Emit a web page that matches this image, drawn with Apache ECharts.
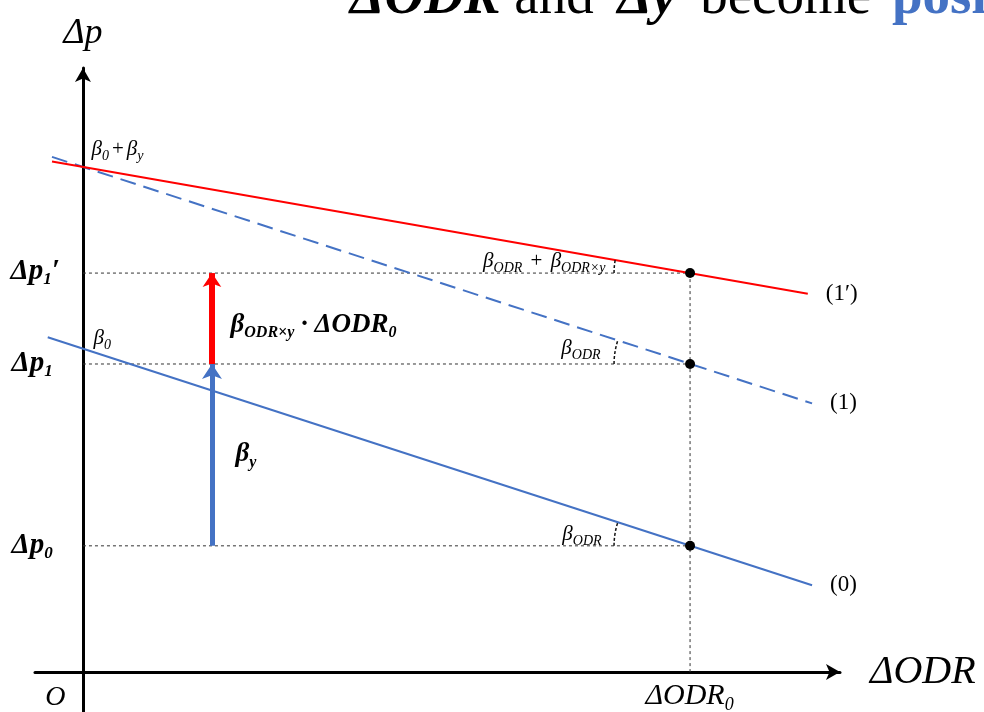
<!DOCTYPE html>
<html><head><meta charset="utf-8">
<script src="https://cdn.jsdelivr.net/npm/echarts@6/dist/echarts.min.js"></script>
<style>html,body{margin:0;padding:0;background:#fff}#c{width:984px;height:712px}</style>
</head><body><div id="c"></div>
<script>
// ---- data (conceptual units) ----
const xRange = [-0.79, 12.47];
const yRange = [-0.79, 11.96];
const odr0 = 10;                       // ΔODR0
const dpLevels = [2.5, 6.1, 7.9];      // Δp0, Δp1, Δp1'
const intercepts = [6.4, 10.0];        // β0, β0+βy
const slopes = [-0.39, -0.21];         // βODR, βODR+βODR×y
const line0 = [[-0.58, 6.63], [12.01, 1.72]];   // (0)
const line1 = [[-0.51, 10.2], [12.01, 5.32]];   // (1)
const line1p = [[-0.51, 10.11], [11.94, 7.49]]; // (1')
const arrowX = 2.125;
const lineNames = ['(0)', '(1)', '(1′)'];

const F = "'Liberation Serif','DejaVu Serif',serif";
const C = '#000';
const BLUE = '#4472C4', RED = '#FF0000';
function st(size, o) { return Object.assign({fontFamily: F, fontSize: size, color: C, lineHeight: size + 6, textBorderWidth: 0}, o || {}); }
const rich = {
  b: st(21, {fontStyle: 'italic'}),
  bs: st(14, {fontStyle: 'italic', lineHeight: 14, verticalAlign: 'bottom'}),
  r: st(21, {padding: [0, 3, 0, 3]}),
  p: st(29, {fontStyle: 'italic', fontWeight: 'bold', lineHeight: 34}),
  ps: st(17, {fontStyle: 'italic', fontWeight: 'bold', lineHeight: 17, verticalAlign: 'bottom'}),
  k: st(27, {fontStyle: 'italic', fontWeight: 'bold', lineHeight: 32}),
  ks: st(16, {fontStyle: 'italic', fontWeight: 'bold', lineHeight: 16, verticalAlign: 'bottom'}),
  ax: st(30, {fontStyle: 'italic', lineHeight: 36}),
  axs: st(18, {fontStyle: 'italic', lineHeight: 18, verticalAlign: 'bottom'}),
  o: st(28, {fontStyle: 'italic'})
};

function ann(value, text, position, align) {
  return {value: value, label: {show: true, formatter: text, position: position, align: align || 'left',
    verticalAlign: 'middle', color: C, textBorderWidth: 0, rich: rich}};
}
const annotations = [
  ann([0, dpLevels[0]], '{p|Δp}{ps|0}', [-71, 0]),
  ann([0, dpLevels[1]], '{p|Δp}{ps|1}', [-71, 0]),
  ann([0, dpLevels[2]], '{p|Δp}{ps|1}{p|′}', [-72, -1]),
  ann([0, intercepts[1]], '{b|β}{bs|0}{r|+}{b|β}{bs|y}', [9, -17]),
  ann([0, intercepts[0]], '{b|β}{bs|0}', [11, -10]),
  ann([odr0, dpLevels[2]], '{b|β}{bs|ODR}{r| + }{b|β}{bs|ODR×y}', [-84, -11], 'right'),
  ann([odr0, dpLevels[1]], '{b|β}{bs|ODR}', [-89, -15], 'right'),
  ann([odr0, dpLevels[0]], '{b|β}{bs|ODR}', [-88, -11], 'right'),
  ann([arrowX, (dpLevels[1] + dpLevels[2]) / 2], '{k|β}{ks|ODR×y}{k| · ΔODR}{ks|0}', [19, 7]),
  ann([arrowX, (dpLevels[0] + dpLevels[1]) / 2], '{k|β}{ks|y}', [24, 0]),
  ann([0, 0], '{o|O}', [-27, 26], 'center'),
  ann([odr0, 0], '{ax|ΔODR}{axs|0}', [0, 25], 'center')
];

const axisBase = {
  type: 'value', axisTick: {show: false}, axisLabel: {show: false}, splitLine: {show: false},
  nameLocation: 'end'
};
function endLab(t) {
  return {show: true, formatter: t, distance: 18, fontFamily: F, fontSize: 23, color: C};
}
function guide(data) {
  return {type: 'line', data: data, symbol: 'none', silent: true, z: 1,
    lineStyle: {color: '#333', width: 1, type: [3, 3]}};
}

const chart = echarts.init(document.getElementById('c'), null, {renderer: 'canvas'});
chart.setOption({
  animation: false,
  grid: {left: 35, right: 144, top: 68, bottom: 0},
  xAxis: Object.assign({}, axisBase, {
    min: xRange[0], max: xRange[1],
    axisLine: {onZero: true, symbol: ['none', 'arrow'], symbolSize: [12, 14], lineStyle: {color: '#000', width: 3}},
    name: 'ΔODR', nameGap: 30,
    nameTextStyle: {fontFamily: F, fontStyle: 'italic', fontSize: 40, color: C, verticalAlign: 'middle'}
  }),
  yAxis: Object.assign({}, axisBase, {
    min: yRange[0], max: yRange[1],
    axisLine: {onZero: true, symbol: ['none', 'arrow'], symbolSize: [12, 14], lineStyle: {color: '#000', width: 3}},
    name: 'Δp', nameGap: 16,
    nameTextStyle: {fontFamily: F, fontStyle: 'italic', fontSize: 36, color: C, align: 'center'}
  }),
  graphic: [{
    type: 'text', x: 350, y: -31, silent: true,
    style: {
      text: '{a|ΔODR}{n| and }{a|Δy}{m| become }{c|positive}',
      verticalAlign: 'top',
      rich: {
        a: {fontFamily: F, fontSize: 55, fontStyle: 'italic', fontWeight: 'bold', fill: '#000', lineHeight: 60},
        n: {fontFamily: F, fontSize: 55, fill: '#000', lineHeight: 60, padding: [0, 10, 0, 0]},
        m: {fontFamily: F, fontSize: 55, fill: '#000', lineHeight: 60, padding: [0, 7, 0, 10]},
        c: {fontFamily: F, fontSize: 55, fontWeight: 'bold', fill: BLUE, lineHeight: 60}
      }
    }
  }],
  series: [
    guide([[0, dpLevels[0]], [odr0, dpLevels[0]]]),
    guide([[0, dpLevels[1]], [odr0, dpLevels[1]]]),
    guide([[0, dpLevels[2]], [odr0, dpLevels[2]]]),
    guide([[odr0, 0], [odr0, dpLevels[2]]]),
    {type: 'line', name: lineNames[0], data: line0, symbol: 'none', z: 3,
      lineStyle: {color: BLUE, width: 2}, endLabel: endLab(lineNames[0])},
    {type: 'line', name: lineNames[1], data: line1, symbol: 'none', z: 3,
      lineStyle: {color: BLUE, width: 2, type: [16, 8]}, endLabel: endLab(lineNames[1])},
    {type: 'line', name: lineNames[2], data: line1p, symbol: 'none', z: 3,
      lineStyle: {color: RED, width: 2}, endLabel: endLab(lineNames[2])},
    {type: 'lines', coordinateSystem: 'cartesian2d', z: 4, symbol: ['none', 'arrow'], symbolSize: [15, 15],
      lineStyle: {color: BLUE, width: 5, opacity: 1},
      data: [{coords: [[arrowX, dpLevels[0]], [arrowX, dpLevels[1]]]}]},
    {type: 'lines', coordinateSystem: 'cartesian2d', z: 4, symbol: ['none', 'arrow'], symbolSize: [14, 14],
      lineStyle: {color: RED, width: 6, opacity: 1},
      data: [{coords: [[arrowX, dpLevels[1]], [arrowX, dpLevels[2]]]}]},
    {type: 'custom', z: 5, silent: true,
      data: [[odr0, dpLevels[0], slopes[0]], [odr0, dpLevels[1], slopes[0]], [odr0, dpLevels[2], slopes[1]]],
      renderItem: function (params, api) {
        const p = api.coord([api.value(0), api.value(1)]);
        const q = api.coord([api.value(0) - 1, api.value(1) - api.value(2)]);
        const th = Math.atan2(p[1] - q[1], p[0] - q[0]);
        return {type: 'arc', shape: {cx: p[0], cy: p[1], r: 76, startAngle: Math.PI, endAngle: Math.PI + th, clockwise: true},
          style: {stroke: '#111', fill: 'none', lineWidth: 1.5, lineDash: [3, 2]}};
      }},
    {type: 'scatter', z: 6, symbolSize: 10, itemStyle: {color: '#000', opacity: 1},
      data: [[odr0, dpLevels[0]], [odr0, dpLevels[1]], [odr0, dpLevels[2]]]},
    {type: 'scatter', z: 7, symbolSize: 1, silent: true, itemStyle: {color: 'rgba(255,255,255,0)', opacity: 1},
      data: annotations}
  ]
});
</script></body></html>
